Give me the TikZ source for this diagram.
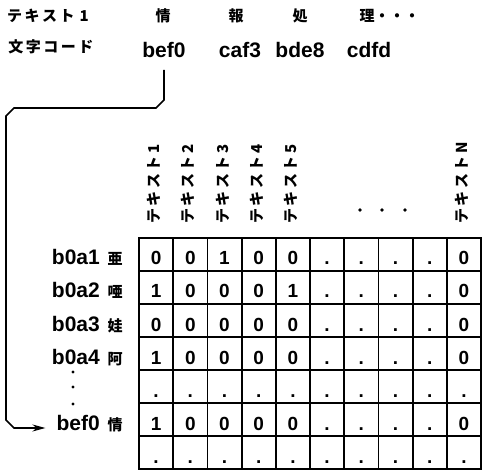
\documentclass[tikz,border=0pt]{standalone}
\usepackage{fontspec}
\setmainfont{Liberation Sans}
\newfontfamily\jp{Noto Sans CJK JP}
\usetikzlibrary{arrows.meta, positioning, calc}
\newcommand{\tekisuto}[1]{テ\,キ\,ス\,ト\,#1}
\tikzset{
  jtext/.style={font=\jp\bfseries\fontsize{15}{15}\selectfont, inner sep=0pt},
  code/.style={font=\bfseries\fontsize{21}{21}\selectfont, inner sep=0pt},
  cell/.style={font=\bfseries\fontsize{19}{19}\selectfont, inner sep=0pt, anchor=base},
  colhead/.style={font=\jp\bfseries\fontsize{15}{15}\selectfont, rotate=90, anchor=west, inner sep=0pt},
  gridline/.style={line width=1.8pt},
  ar/.style={-{Stealth[length=13pt,width=7pt]}, line width=1.6pt},
}

\begin{document}
\begin{tikzpicture}[x=1pt, y=-1pt]
  \useasboundingbox (0,0) rectangle (482,470);

  % text and its codes
  \node[jtext] (txt1) at (48,16) {\tekisuto{\,1}};
  \node[jtext] (ch1) at (163,16) {情};
  \node[jtext] (ch2) at (236,16) {報};
  \node[jtext] (ch3) at (300,16) {処};
  \node[jtext, anchor=west] (ch4) at (359.5,16) {理・・・};
  \node[jtext] (codelab) at (51,47) {文\,字\,コ\,ー\,ド};
  \node[code, anchor=base] (wbef) at (164,58) {bef0};
  \node[code, anchor=base] (wcaf) at (240,58) {caf3};
  \node[code, anchor=base] (wbde) at (300,58) {bde8};
  \node[code, anchor=base] (wcdf) at (369,58) {cdfd};

  % column heads
  \foreach \c in {1,...,5}
    \node[colhead] (head\c) at ({139+(\c-0.5)*34.2-2},224) {\tekisuto{\c}};
  \node[colhead] (headN) at ({139+9.5*34.2-2},224) {\tekisuto{N}};
  \foreach \x in {360,382,405}
    \fill (\x,210) circle (1.8pt);

  % row labels
  \foreach \r/\cd/\ch in {1/b0a1/亜, 2/b0a2/唖, 3/b0a3/娃, 4/b0a4/阿, 6/bef0/情} {
    \node[code, anchor=base east] (code\r) at (100,{232+33*\r}) {\cd};
    \node[jtext, anchor=base] (kanji\r) at (115,{232+33*\r}) {\ch};
  }
  \foreach \y in {372,387,404}
    \fill (73,\y) circle (1.6pt);

  % table
  \foreach \c in {0,...,10}
    \draw[gridline] ({139+\c*34.2},238) -- ({139+\c*34.2},469);
  \foreach \r in {0,...,7}
    \draw[gridline] (138.1,{238+\r*33}) -- (481.9,{238+\r*33});
  \foreach \row [count=\r] in {{0,0,1,0,0,.,.,.,.,0},
                               {1,0,0,0,1,.,.,.,.,0},
                               {0,0,0,0,0,.,.,.,.,0},
                               {1,0,0,0,0,.,.,.,.,0},
                               {.,.,.,.,.,.,.,.,.,.},
                               {1,0,0,0,0,.,.,.,.,0},
                               {.,.,.,.,.,.,.,.,.,.}}
    \foreach \v [count=\c] in \row
      \node[cell] (cell-\r-\c) at ({139+(\c-0.5)*34.2},{232+33*\r}) {\v};

  % lookup arrow
  \draw[ar, shorten >=11pt] ([yshift=-12pt]wbef.base) -- (wbef.base |- 0,100)
    -- ++(-8,8) -- (14,108) -- (6,116) -- (6,420) -- (14,428)
    -- ([yshift=2pt]code6.base west);
\end{tikzpicture}
\end{document}
